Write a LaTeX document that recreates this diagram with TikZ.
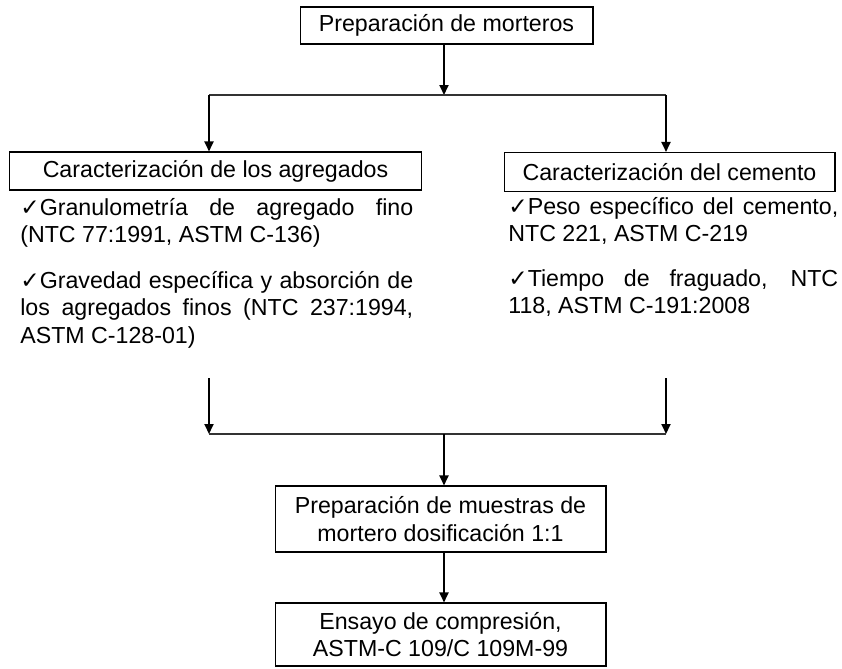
\documentclass[tikz,border=0pt]{standalone}
\usepackage{fontspec}
\setmainfont{Liberation Sans}
\newfontfamily\symfont{DejaVu Sans}
\usetikzlibrary{arrows.meta}
\newcommand{\chk}{{\symfont\char"2713}}

\begin{document}
\begin{tikzpicture}[
    x=0.02cm, y=-0.02cm,
    box/.style={rectangle, draw=black, line width=0.6pt, inner sep=0pt, font=\fontsize{13.2}{15.8}\selectfont, align=center},
    item/.style={anchor=north west, inner sep=0pt, align=justify, font=\fontsize{13.2}{15.8}\selectfont, execute at begin node={\hyphenpenalty=10000\exhyphenpenalty=10000\rule{0pt}{13pt}}},
    arrow/.style={-{Triangle[length=2mm,width=1.8mm]}, line width=1.1pt},
    bus/.style={line width=0.7pt, draw=black!80}
]
\useasboundingbox (0,0) rectangle (842,669);

% Boxes
\node[box, minimum width=5.86cm, minimum height=0.74cm] (prep) at (446.5,25.5) {Preparación de morteros};
\node[box, minimum width=8.26cm, minimum height=0.76cm] (agreg) at (215.5,171) {Caracterización de los agregados};
\node[box, minimum width=6.62cm, minimum height=0.78cm] (cem) at (669.5,172) {Caracterización del cemento};
\node[box, minimum width=6.62cm, minimum height=1.32cm] (muestras) at (440.5,519) {Preparación de muestras de\\mortero dosificación 1:1};
\node[box, minimum width=6.62cm, minimum height=1.26cm] (ensayo) at (440.5,634.5) {Ensayo de compresión,\\ASTM-C 109/C 109M-99};

% Tests
\node[item, text width=7.86cm] (granulo) at (20,192) {\chk Granulometría de agregado fino\linebreak (NTC 77:1991, ASTM C-136)};
\node[item, text width=7.86cm] (graved) at (20,265) {\chk Gravedad específica y absorción de\linebreak los agregados finos (NTC 237:1994,\linebreak ASTM C-128-01)};
\node[item, text width=6.6cm] (peso) at (508,191) {\chk Peso específico del cemento,\linebreak NTC 221, ASTM C-219};
\node[item, text width=6.6cm] (tiempo) at (508,263) {\chk Tiempo de fraguado, NTC\linebreak 118, ASTM C-191:2008};

% Bus points
\coordinate (busT) at (444,95);
\coordinate (busTL) at (209,95);
\coordinate (busTR) at (666,95);
\coordinate (joinL) at (209,378);
\coordinate (joinR) at (666,378);
\coordinate (busBL) at (209,434);
\coordinate (busBR) at (666,434);
\coordinate (busB) at (444,434);

% Arrows
\draw[arrow] (prep.south -| busT) -- (busT);
\draw[bus] (busTL) -- (busTR);
\draw[arrow] (busTL) -- (agreg.north -| busTL);
\draw[arrow] (busTR) -- (cem.north -| busTR);
\draw[arrow] (joinL) -- (busBL);
\draw[arrow] (joinR) -- (busBR);
\draw[bus] (busBL) -- (busBR);
\draw[arrow] (busB) -- (muestras.north -| busB);
\draw[arrow] (muestras.south -| busB) -- (ensayo.north -| busB);
\end{tikzpicture}
\end{document}
